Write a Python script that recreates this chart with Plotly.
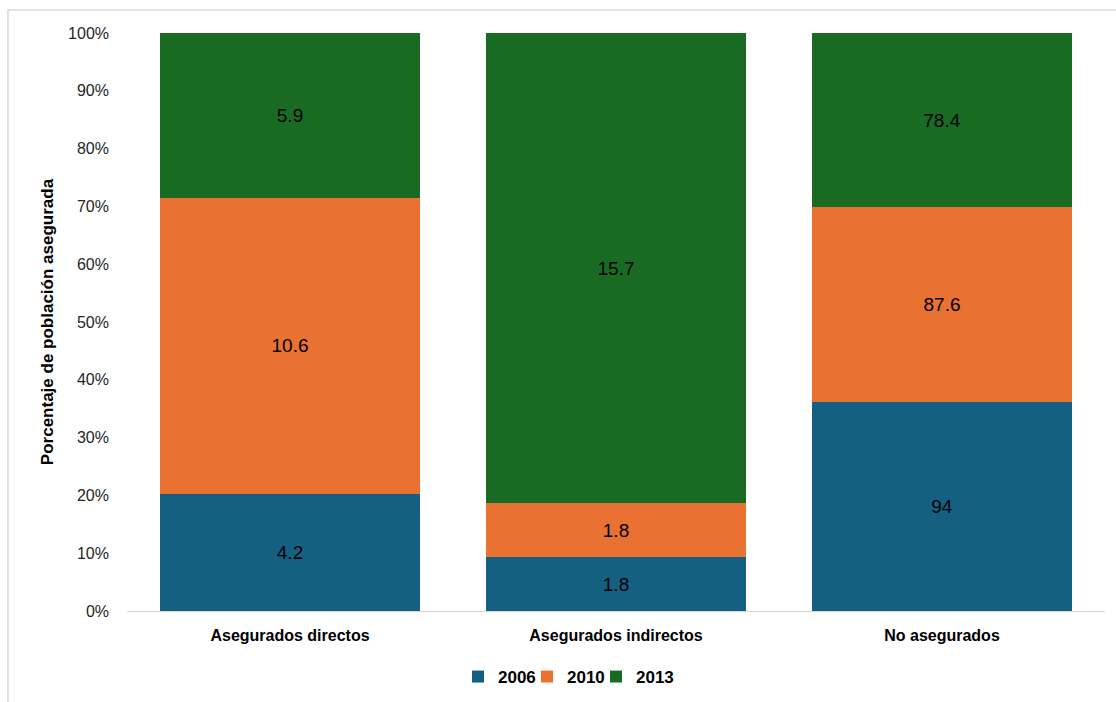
import plotly.graph_objects as go

categories = ["Asegurados directos", "Asegurados indirectos", "No asegurados"]
years = ["2006", "2010", "2013"]
v2006 = [4.2, 1.8, 94]
v2010 = [10.6, 1.8, 87.6]
v2013 = [5.9, 15.7, 78.4]
colors = ["#156082", "#E97132", "#196B24"]
ytick_vals = [0, 10, 20, 30, 40, 50, 60, 70, 80, 90, 100]
ytick_text = [f"{v}%" for v in ytick_vals]

fig = go.Figure()
for name, vals, col in zip(years, [v2006, v2010, v2013], colors):
    fig.add_trace(go.Bar(
        x=categories, y=vals, name=name, marker=dict(color=col, line=dict(width=0)),
        text=[f"{v:g}" for v in vals], textposition="inside", insidetextanchor="middle",
        textfont=dict(family="Liberation Sans, Arial", size=19, color="black"),
        constraintext="none",
    ))
# invisible spacer legend entry so the last legend label is not clipped
fig.add_trace(go.Scatter(x=[None], y=[None], name=" ", mode="markers",
                         marker=dict(color="rgba(0,0,0,0)", size=1, line=dict(width=0)),
                         hoverinfo="skip", showlegend=True))

fig.update_layout(
    barmode="stack", barnorm="percent", bargap=0.2,
    width=1116, height=702,
    margin=dict(l=127, r=11, t=33, b=91, autoexpand=False),
    paper_bgcolor="white", plot_bgcolor="white",
    showlegend=True,
    legend=dict(orientation="h", x=(458 - 127) / 978, xanchor="left",
                yref="container", y=25 / 702, yanchor="middle",
                font=dict(family="Liberation Sans", size=17, color="black", weight="bold"),
                itemwidth=30, traceorder="normal", entrywidth=24, entrywidthmode="pixels"),
)
fig.update_yaxes(range=[0, 100], tickvals=ytick_vals, ticktext=ytick_text,
                 tickfont=dict(family="Liberation Sans, Arial", size=16, color="#262626"),
                 showgrid=False, zeroline=False, showline=False, ticks="",
                 ticklabelstandoff=17, automargin=False,
                 title=dict(text="Porcentaje de población asegurada",
                            font=dict(family="Liberation Sans, Arial", size=17, color="black", weight="bold"),
                            standoff=10))
fig.update_xaxes(showline=True, linecolor="#D9D9D9", linewidth=1, ticks="",
                 ticklabelstandoff=10, automargin=False,
                 tickfont=dict(family="Liberation Sans", size=16, color="black", weight="bold"))
fig.add_shape(type="rect", xref="paper", yref="paper", x0=-0.1217, x1=1.05, y0=-0.2, y1=1.04,
              line=dict(color="#D9D9D9", width=1.5), fillcolor="rgba(0,0,0,0)")
fig.write_html("out.html")
